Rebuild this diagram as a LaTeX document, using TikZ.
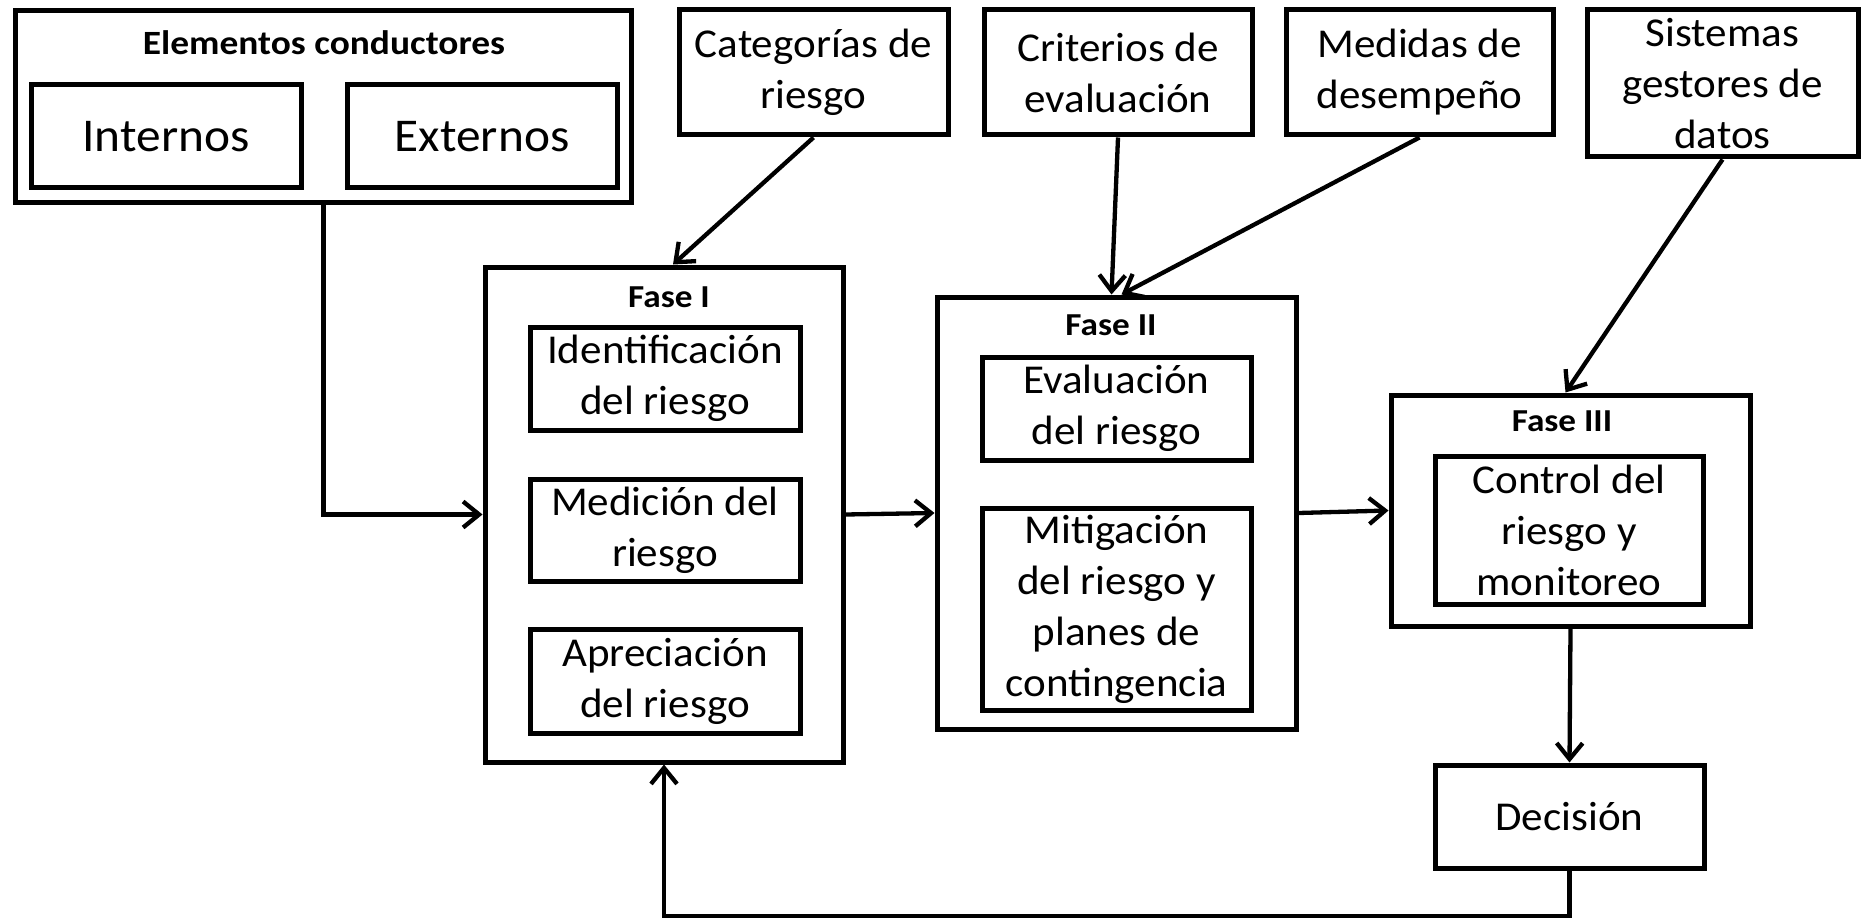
\documentclass[tikz,border=0pt]{standalone}
\usepackage{fontspec}
\setmainfont{Carlito}[FakeStretch=1.05]
\newfontfamily\ttlfont{Carlito}[FakeStretch=1.1]
\usetikzlibrary{arrows.meta}
\tikzset{
  box/.style={draw=black, line width=5pt, fill=white, inner sep=0pt, align=center,
    font=\fontsize{41}{51}\selectfont},
  bigtxt/.style={font=\fontsize{47}{56}\selectfont},
  ttl/.style={inner sep=0pt, font=\ttlfont\fontsize{34}{40}\selectfont\bfseries},
  fttl/.style={inner sep=0pt, font=\ttlfont\fontsize{32}{38}\selectfont\bfseries},
  arr/.style={draw=black, line width=4.3pt, -{Straight Barb[length=16pt,width=26pt,line width=4.3pt]}}
}
\begin{document}
\begin{tikzpicture}[x=1pt,y=-1pt]
\useasboundingbox[fill=white] (0,0) rectangle (1862,920);
% top-left container
\node[box, minimum width=616pt, minimum height=192pt] (elem) at (323.5,106.5) {};
\node[ttl] (elemt) at (324,43) {Elementos conductores};
\node[box, bigtxt, minimum width=270pt, minimum height=103pt] (intern) at (166,136.5) {Internos};
\node[box, bigtxt, minimum width=270pt, minimum height=103pt] (extern) at (482,136.5) {Externos};
% top inputs
\node[box, minimum width=269pt, minimum height=125pt] (categ) at (813.5,72.5) {Categorías de\\riesgo};
\node[box, minimum width=268pt, minimum height=125pt] (crit) at (1118,72.5) {Criterios de\\evaluación};
\node[box, minimum width=267pt, minimum height=125pt] (medid) at (1419.5,72.5) {Medidas de\\desempeño};
\node[box, minimum width=271pt, minimum height=147pt] (sist) at (1722.5,83.5) {Sistemas\\gestores de\\datos};
% Fase I
\node[box, minimum width=358pt, minimum height=495pt] (fase1) at (664,514.5) {};
\node[fttl] (f1t) at (669,297) {Fase I};
\node[box, minimum width=270pt, minimum height=103pt] (ident) at (665,378.5) {Identificación\\del riesgo};
\node[box, minimum width=270pt, minimum height=102pt] (medic) at (665,530) {Medición del\\riesgo};
\node[box, minimum width=270pt, minimum height=104pt] (apre) at (665,681) {Apreciación\\del riesgo};
% Fase II
\node[box, minimum width=359pt, minimum height=432pt] (fase2) at (1116.5,513) {};
\node[fttl] (f2t) at (1111,325) {Fase II};
\node[box, minimum width=269pt, minimum height=103pt] (evalu) at (1116.5,408.5) {Evaluación\\del riesgo};
\node[box, minimum width=269pt, minimum height=202pt] (mitig) at (1116.5,609) {Mitigación\\del riesgo y\\planes de\\contingencia};
% Fase III
\node[box, minimum width=359pt, minimum height=231pt] (fase3) at (1570.5,510.5) {};
\node[fttl] (f3t) at (1562,421) {Fase III};
\node[box, minimum width=268pt, minimum height=148pt] (control) at (1569,530) {Control del\\riesgo y\\monitoreo};
% Decision
\node[box, minimum width=269pt, minimum height=103pt] (decis) at (1569.5,816.5) {Decisión};
% connectors
\draw[arr] (elem.south) |- (fase1.west);
\draw[arr] (fase1.east) -- (fase2.west);
\draw[arr] (fase2.east) -- (fase3.west);
\draw[arr] (fase3.south) -- (decis.north);
\coordinate (fb) at (1569.5,916);
\draw[arr] (decis.south) -- (fb) -| (fase1.south);
\draw[arr] (categ.south) -- ([xshift=9pt]fase1.north);
\draw[arr] (crit.south) -- ([xshift=-5pt]fase2.north);
\draw[arr] (medid.south) -- ([xshift=5pt]fase2.north);
\draw[arr] (sist.south) -- ([xshift=-5pt]fase3.north);
\end{tikzpicture}
\end{document}
